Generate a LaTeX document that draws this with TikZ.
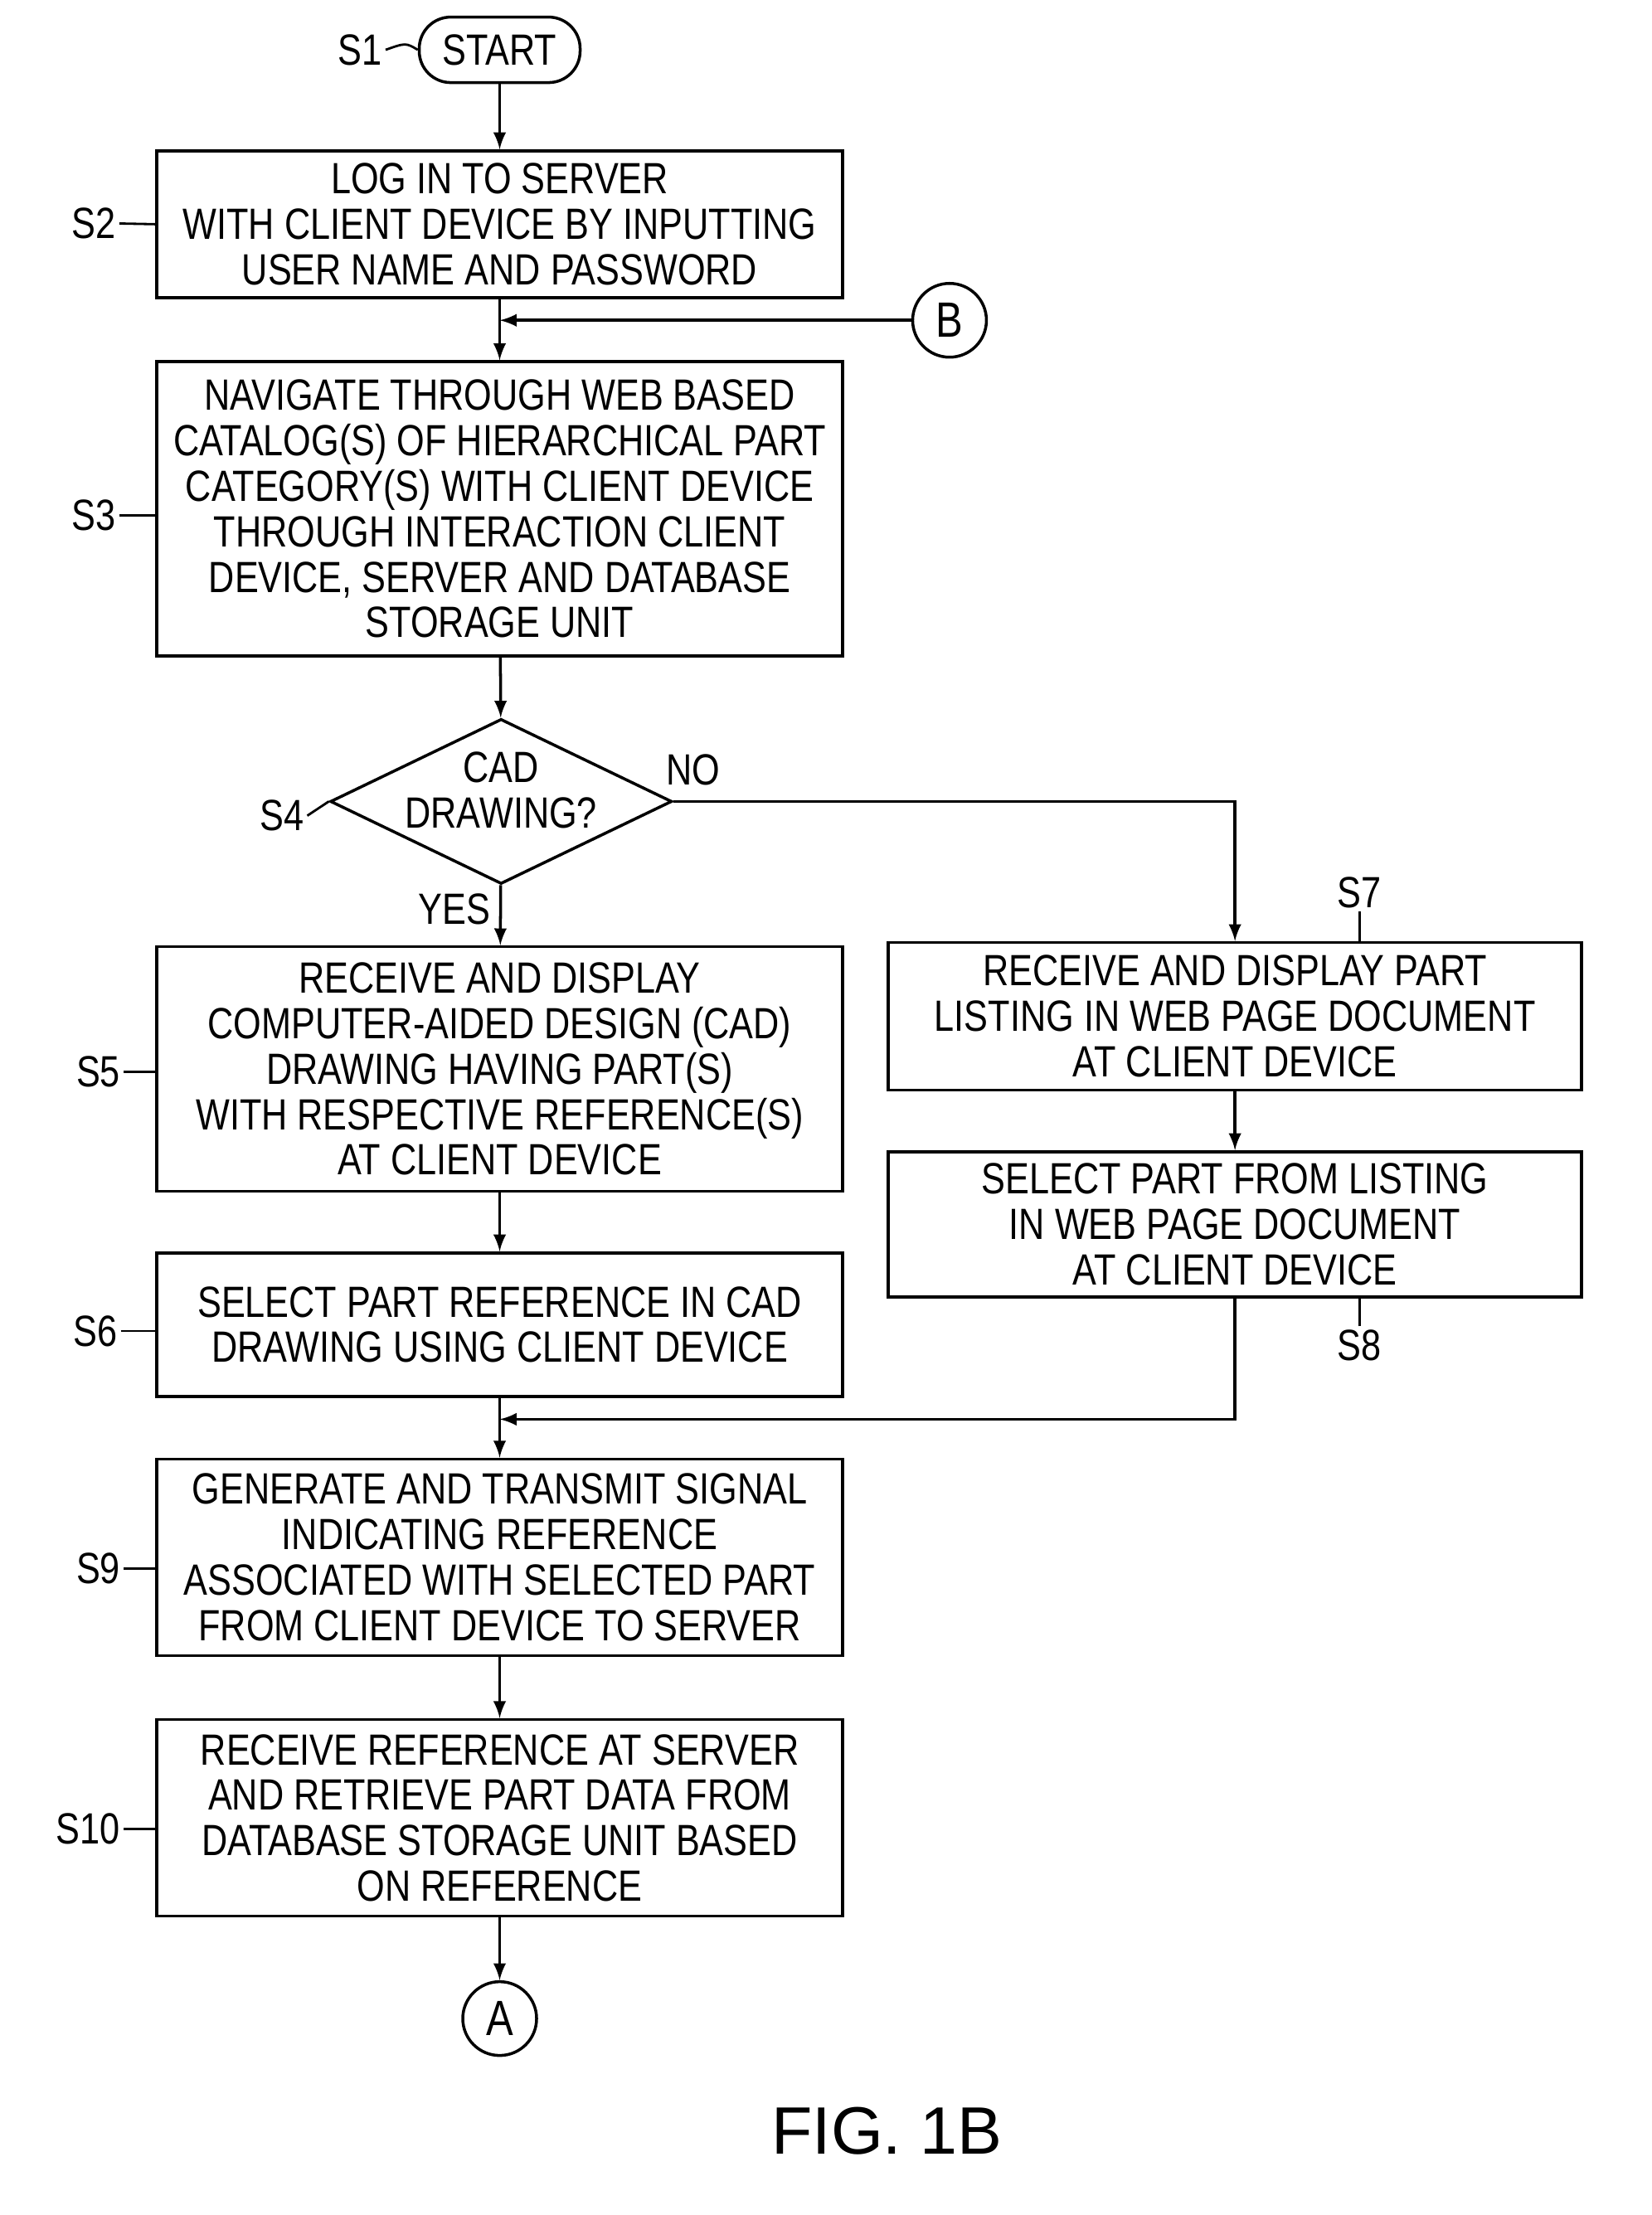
\documentclass[tikz,border=0pt]{standalone}
\usepackage{fontspec}
\setmainfont{Liberation Sans}[FakeStretch=0.82]
\newfontfamily\figfont{Liberation Sans}
\usetikzlibrary{shapes,arrows,positioning}
\tikzset{
  box/.style={draw, line width=1pt, rectangle, align=center, inner sep=2pt,
    font=\fontsize{15}{15.6}\selectfont},
  term/.style={draw, line width=1pt, rounded corners=0.38cm, align=center,
    minimum width=1.94cm, minimum height=0.79cm, font=\fontsize{15}{15.6}\selectfont},
  dec/.style={draw, line width=1pt, diamond, aspect=2.07, inner sep=0pt, align=center,
    minimum width=4.12cm, minimum height=1.99cm},
  conn/.style={draw, line width=1pt, circle, minimum size=0.89cm, inner sep=0pt,
    font=\fontsize{17}{18}\selectfont},
  lbl/.style={font=\fontsize{15}{15.6}\selectfont, inner sep=1pt},
  flow/.style={line width=1pt, -latex}
}
\begin{document}
\begin{tikzpicture}[x=0.01716cm, y=-0.01716cm]
  \useasboundingbox (0,0) rectangle (1160,1556);

  % Left column
  \node[term] (start) at (351,35) {START};
  \node[box, minimum width=8.27cm, minimum height=1.77cm] (login) at (351,157.5)
    {LOG IN TO SERVER\\WITH CLIENT DEVICE BY INPUTTING\\USER NAME AND PASSWORD};
  \node[box, minimum width=8.27cm, minimum height=3.55cm] (navigate) at (351,357.5)
    {NAVIGATE THROUGH WEB BASED\\CATALOG(S) OF HIERARCHICAL PART\\CATEGORY(S) WITH CLIENT DEVICE\\THROUGH INTERACTION CLIENT\\DEVICE, SERVER AND DATABASE\\STORAGE UNIT};
  \node[dec] (cad) at (352,563) {};
  \node[lbl, align=center] (cadtxt) at (352,555) {CAD\\DRAWING?};
  \node[box, minimum width=8.27cm, minimum height=2.95cm] (display) at (351,751)
    {RECEIVE AND DISPLAY\\COMPUTER-AIDED DESIGN (CAD)\\DRAWING HAVING PART(S)\\WITH RESPECTIVE REFERENCE(S)\\AT CLIENT DEVICE};
  \node[box, minimum width=8.27cm, minimum height=1.73cm] (selref) at (351,930.5)
    {SELECT PART REFERENCE IN CAD\\DRAWING USING CLIENT DEVICE};
  \node[box, minimum width=8.27cm, minimum height=2.37cm] (signal) at (351,1094)
    {GENERATE AND TRANSMIT SIGNAL\\INDICATING REFERENCE\\ASSOCIATED WITH SELECTED PART\\FROM CLIENT DEVICE TO SERVER};
  \node[box, minimum width=8.27cm, minimum height=2.37cm] (retrieve) at (351,1277)
    {RECEIVE REFERENCE AT SERVER\\AND RETRIEVE PART DATA FROM\\DATABASE STORAGE UNIT BASED\\ON REFERENCE};
  \node[conn] (A) at (351,1418) {A};
  \node[conn] (B) at (667,225) {B};

  % Right column
  \node[box, minimum width=8.36cm, minimum height=1.78cm] (listing) at (867.5,714)
    {RECEIVE AND DISPLAY PART\\LISTING IN WEB PAGE DOCUMENT\\AT CLIENT DEVICE};
  \node[box, minimum width=8.36cm, minimum height=1.75cm] (selpart) at (867.5,860)
    {SELECT PART FROM LISTING\\IN WEB PAGE DOCUMENT\\AT CLIENT DEVICE};

  \coordinate (bjoin) at (351,225);
  \coordinate (nocorner) at (867.5,563);
  \coordinate (mright) at (867.5,997);
  \coordinate (mjoin) at (351,997);

  % Connectors
  \draw[flow] (start) -- (login);
  \draw[line width=1pt] (login) -- (bjoin);
  \draw[flow] (B) -- (bjoin);
  \draw[flow] (bjoin) -- (navigate);
  \draw[flow] (navigate) -- (cad);
  \draw[flow] (cad) -- node[lbl, pos=0.4, left=2pt] {YES} (display);
  \draw[flow] (cad.east) -- (nocorner) -- (listing);
  \draw[flow] (display) -- (selref);
  \draw[flow] (listing) -- (selpart);
  \draw[line width=1pt] (selref) -- (mjoin);
  \draw[flow] (selpart) -- (mright) -- (mjoin);
  \draw[flow] (mjoin) -- (signal);
  \draw[flow] (signal) -- (retrieve);
  \draw[flow] (retrieve) -- (A);
  \node[lbl] (no) at (487,541) {NO};

  % Step labels
  \node[lbl] (s1) at (253,35) {S1};
  \draw[line width=0.8pt] (s1.east) .. controls (285,30) .. (start.west);
  \node[lbl] (s2) at (66,157) {S2};
  \draw[line width=0.8pt] (s2.east) -- (login.west);
  \node[lbl] (s3) at (66,362) {S3};
  \draw[line width=0.8pt] (s3.east) -- (navigate.west |- s3);
  \node[lbl] (s4) at (198,573) {S4};
  \draw[line width=0.8pt] (s4.east) -- (cad.west);
  \node[lbl] (s5) at (69,753) {S5};
  \draw[line width=0.8pt] (s5.east) -- (display.west |- s5);
  \node[lbl] (s6) at (67,935) {S6};
  \draw[line width=0.8pt] (s6.east) -- (selref.west |- s6);
  \node[lbl] (s9) at (69,1102) {S9};
  \draw[line width=0.8pt] (s9.east) -- (signal.west |- s9);
  \node[lbl] (s10) at (62,1285) {S10};
  \draw[line width=0.8pt] (s10.east) -- (retrieve.west |- s10);
  \node[lbl] (s7) at (955,627) {S7};
  \draw[line width=0.8pt] (s7.south) -- (listing.north -| s7);
  \node[lbl] (s8) at (955,945) {S8};
  \draw[line width=0.8pt] (s8.north) -- (selpart.south -| s8);

  \node[font=\figfont\fontsize{23}{25}\selectfont] (fig) at (623,1497) {FIG. 1B};
\end{tikzpicture}
\end{document}
